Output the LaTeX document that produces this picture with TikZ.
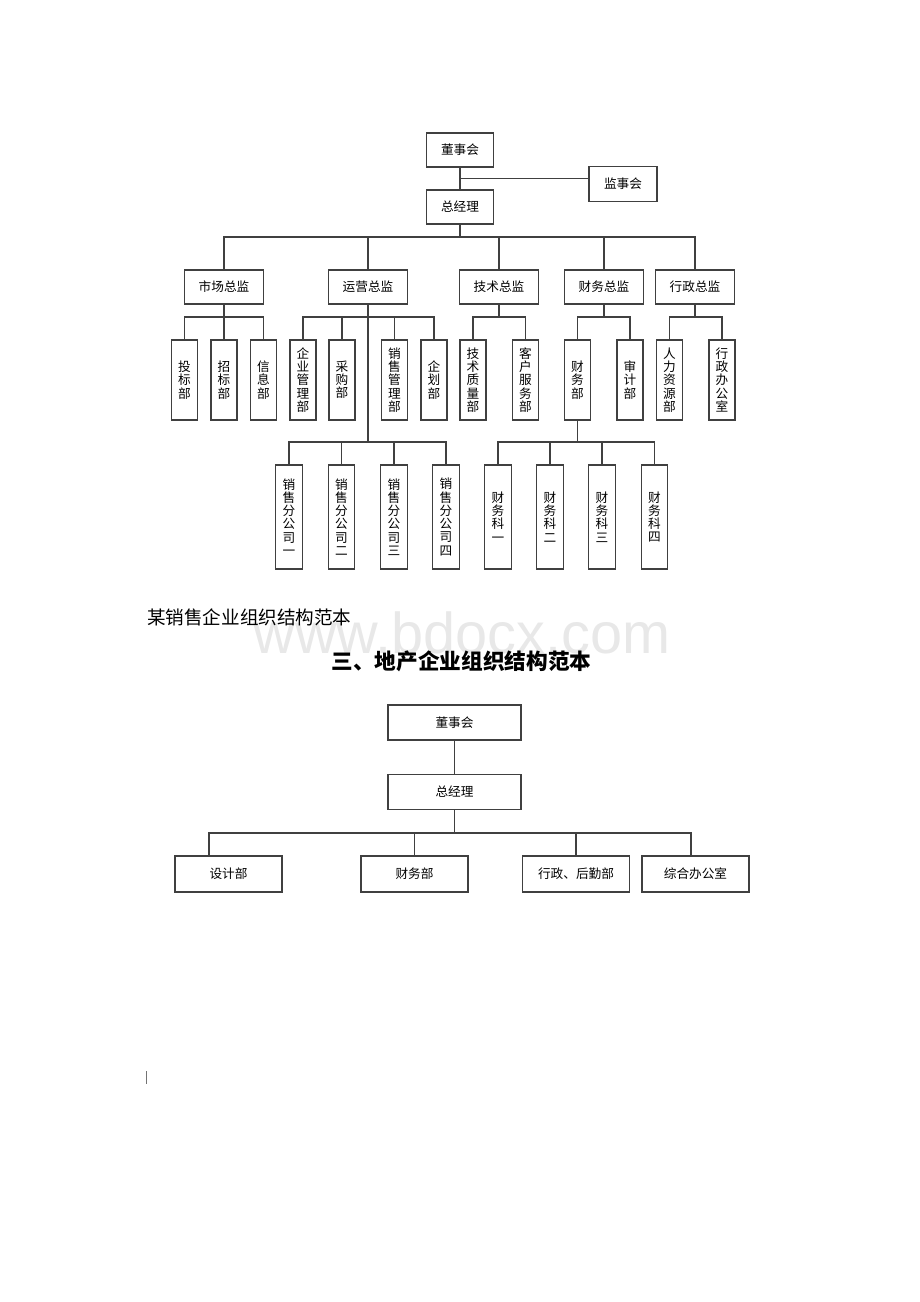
\documentclass[tikz,border=0pt]{standalone}
\usepackage{fontspec}
\setmainfont{Noto Sans CJK SC}
\newfontfamily\wmfont{Liberation Sans}

\begin{document}
\begin{tikzpicture}[x=0.025cm, y=-0.025cm,
  box/.style={draw=black!75, line width=0.9pt, inner sep=0pt, align=center,
    font=\fontsize{9}{9.4}\selectfont},
  topbox/.style={box, minimum width=1.675cm, minimum height=0.85cm},
  headbox/.style={box, minimum width=1.975cm, minimum height=0.85cm},
  deptbox/.style={box, minimum width=0.65cm, minimum height=2cm},
  unitbox/.style={box, minimum width=0.66cm, minimum height=2.6cm},
  widebox/.style={box, minimum width=3.325cm, minimum height=0.875cm},
  flatbox/.style={box, minimum width=2.675cm, minimum height=0.9cm},
  link/.style={draw=black!75, line width=0.9pt, line cap=rect}]
  \useasboundingbox (0, 0) rectangle (920, 1302);

  % watermark
  \node (wm) at (462, 653) [anchor=base, text=black!9,
    font=\wmfont\fontsize{41}{41}\selectfont]{www.bdocx.com};

  % first chart
  \node (dsh) at (460, 150) [topbox]{董事会};
  \node (jsh) at (623, 184) [topbox, minimum width=1.7cm, minimum height=0.875cm]{监事会};
  \node (zjl) at (460, 207) [topbox]{总经理};

  \node (sc) at (224, 287) [headbox]{市场总监};
  \node (yy) at (368, 287) [headbox]{运营总监};
  \node (js) at (499, 287) [headbox]{技术总监};
  \node (cw) at (604, 287) [headbox]{财务总监};
  \node (xz) at (695, 287) [headbox]{行政总监};

  \node (tb) at (184.5, 380) [deptbox]{投\\标\\部};
  \node (zb) at (224, 380) [deptbox]{招\\标\\部};
  \node (xx) at (263.5, 380) [deptbox]{信\\息\\部};
  \node (qg) at (303, 380) [deptbox]{企\\业\\管\\理\\部};
  \node (cg) at (342, 380) [deptbox]{采\\购\\部};
  \node (xg) at (394.5, 380) [deptbox]{销\\售\\管\\理\\部};
  \node (qh) at (434, 380) [deptbox]{企\\划\\部};
  \node (jz) at (473, 380) [deptbox]{技\\术\\质\\量\\部};
  \node (kf) at (525.5, 380) [deptbox]{客\\户\\服\\务\\部};
  \node (cwb) at (577.5, 380) [deptbox]{财\\务\\部};
  \node (sj) at (630, 380) [deptbox]{审\\计\\部};
  \node (rl) at (669.5, 380) [deptbox]{人\\力\\资\\源\\部};
  \node (xb) at (722, 380) [deptbox]{行\\政\\办\\公\\室};

  \node (fg1) at (289, 517) [unitbox]{销\\售\\分\\公\\司\\一};
  \node (fg2) at (341.5, 517) [unitbox]{销\\售\\分\\公\\司\\二};
  \node (fg3) at (394, 517) [unitbox]{销\\售\\分\\公\\司\\三};
  \node (fg4) at (446, 517) [unitbox]{销\\售\\分\\公\\司\\四};
  \node (ck1) at (498, 517) [unitbox]{财\\务\\科\\一};
  \node (ck2) at (550, 517) [unitbox]{财\\务\\科\\二};
  \node (ck3) at (602, 517) [unitbox]{财\\务\\科\\三};
  \node (ck4) at (654.5, 517) [unitbox]{财\\务\\科\\四};

  \coordinate (jm) at (460, 178.5);
  \coordinate (bus) at (0, 237);
  \coordinate (sub) at (0, 317);
  \coordinate (low) at (0, 442);

  \draw[link] (dsh) -- (zjl);
  \draw[link] (jm) -- (jsh.west |- jm);
  \draw[link] (zjl) -- (zjl |- bus);
  \draw[link] (sc |- bus) -- (xz |- bus);
  \draw[link] (sc |- bus) -- (sc.north) (yy |- bus) -- (yy.north)
    (js |- bus) -- (js.north) (cw |- bus) -- (cw.north) (xz |- bus) -- (xz.north);

  \draw[link] (sc) -- (sc |- sub) (tb |- sub) -- (xx |- sub)
    (tb |- sub) -- (tb.north) (zb |- sub) -- (zb.north) (xx |- sub) -- (xx.north);
  \draw[link] (yy) -- (yy |- low) (qg |- sub) -- (qh |- sub)
    (qg |- sub) -- (qg.north) (cg |- sub) -- (cg.north)
    (xg |- sub) -- (xg.north) (qh |- sub) -- (qh.north);
  \draw[link] (js) -- (js |- sub) (jz |- sub) -- (kf |- sub)
    (jz |- sub) -- (jz.north) (kf |- sub) -- (kf.north);
  \draw[link] (cw) -- (cw |- sub) (cwb |- sub) -- (sj |- sub)
    (cwb |- sub) -- (cwb.north) (sj |- sub) -- (sj.north);
  \draw[link] (xz) -- (xz |- sub) (rl |- sub) -- (xb |- sub)
    (rl |- sub) -- (rl.north) (xb |- sub) -- (xb.north);

  \draw[link] (fg1 |- low) -- (fg4 |- low)
    (fg1 |- low) -- (fg1.north) (fg2 |- low) -- (fg2.north)
    (fg3 |- low) -- (fg3.north) (fg4 |- low) -- (fg4.north);
  \draw[link] (cwb) -- (cwb |- low) (ck1 |- low) -- (ck4 |- low)
    (ck1 |- low) -- (ck1.north) (ck2 |- low) -- (ck2.north)
    (ck3 |- low) -- (ck3.north) (ck4 |- low) -- (ck4.north);

  % captions
  \node (cap) at (147, 617) [anchor=west, inner sep=0pt,
    font=\fontsize{13.2}{14}\selectfont]{某销售企业组织结构范本};
  \node (ttl) at (461.5, 661) [inner sep=0pt,
    font=\bfseries\fontsize{15.4}{16}\selectfont]{三、地产企业组织结构范本};

  % second chart
  \node (dsh2) at (454.5, 722.5) [widebox]{董事会};
  \node (zjl2) at (454.5, 792) [widebox]{总经理};
  \node (sjb) at (228.5, 874) [flatbox]{设计部};
  \node (cwb2) at (414.5, 874) [flatbox]{财务部};
  \node (hq) at (576, 874) [flatbox]{行政、后勤部};
  \node (zh) at (695.5, 874) [flatbox]{综合办公室};

  \coordinate (bus2) at (0, 833);
  \coordinate (sjx) at (209, 833);
  \coordinate (zhx) at (691, 833);

  \draw[link] (dsh2) -- (zjl2);
  \draw[link] (zjl2) -- (zjl2 |- bus2);
  \draw[link] (sjx) -- (zhx);
  \draw[link] (sjx) -- (sjx |- sjb.north) (cwb2 |- bus2) -- (cwb2.north)
    (hq |- bus2) -- (hq.north) (zhx) -- (zhx |- zh.north);

  % stray cursor mark
  \draw[black!55, line width=0.6pt] (146.5, 1071) -- (146.5, 1084);
\end{tikzpicture}
\end{document}
